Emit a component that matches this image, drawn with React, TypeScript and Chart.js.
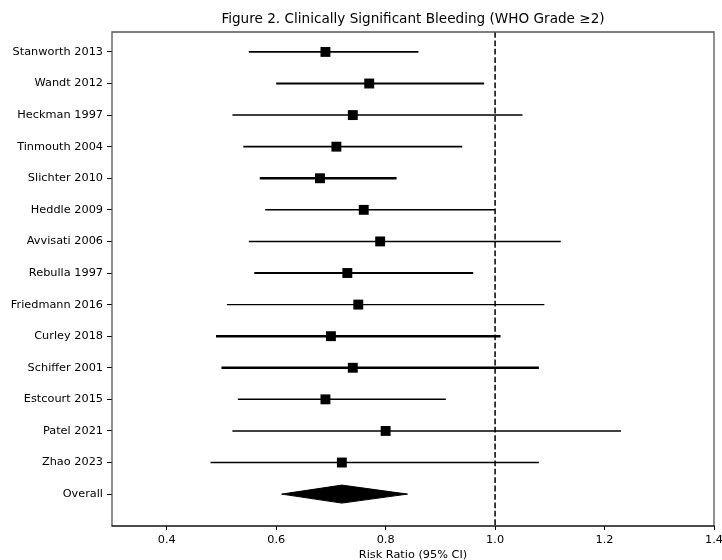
import React, { useEffect, useRef } from 'react';
import { Chart, registerables } from 'chart.js';

Chart.register(...registerables);

// ---- data ----
const studies = [
  'Stanworth 2013',
  'Wandt 2012',
  'Heckman 1997',
  'Tinmouth 2004',
  'Slichter 2010',
  'Heddle 2009',
  'Avvisati 2006',
  'Rebulla 1997',
  'Friedmann 2016',
  'Curley 2018',
  'Schiffer 2001',
  'Estcourt 2015',
  'Patel 2021',
  'Zhao 2023',
];
const riskRatios = [0.69, 0.77, 0.74, 0.71, 0.68, 0.76, 0.79, 0.73, 0.75, 0.70, 0.74, 0.69, 0.80, 0.72];
const lowerCI = [0.55, 0.60, 0.52, 0.54, 0.57, 0.58, 0.55, 0.56, 0.51, 0.49, 0.50, 0.53, 0.52, 0.48];
const upperCI = [0.86, 0.98, 1.05, 0.94, 0.82, 1.00, 1.12, 0.96, 1.09, 1.01, 1.08, 0.91, 1.23, 1.08];
const overallLabel = 'Overall';
const overallRR = 0.72;
const overallLower = 0.61;
const overallUpper = 0.84;
const xTickValues = [0.4, 0.6, 0.8, 1.0, 1.2, 1.4];
const nullEffect = 1.0;

// ---- styles ----
const ciLineWidths = [1.8, 1.8, 1.5, 1.8, 2.6, 1.5, 1.5, 1.8, 1.3, 2.6, 2.6, 1.5, 1.5, 1.5];
const titleText = 'Figure 2. Clinically Significant Bleeding (WHO Grade \u22652)';
const xTitleText = 'Risk Ratio (95% CI)';

const rowLabels = [...studies, overallLabel];
const overallRow = studies.length;
const Y_MIN = -0.63;
const Y_MAX = overallRow + 1.01;
const DIAMOND_HALF = 0.285;

const framePlugin = {
  id: 'frame',
  afterDatasetsDraw(chart: any) {
    const { ctx, chartArea } = chart;
    const { left, right, top, bottom } = chartArea;
    ctx.save();
    ctx.lineWidth = 1.3;
    ctx.strokeStyle = '#555';
    ctx.beginPath();
    ctx.moveTo(left, bottom);
    ctx.lineTo(left, top);
    ctx.lineTo(right, top);
    ctx.lineTo(right, bottom);
    ctx.stroke();
    ctx.strokeStyle = '#111';
    ctx.lineWidth = 1.5;
    ctx.beginPath();
    ctx.moveTo(left - 0.5, bottom);
    ctx.lineTo(right + 0.5, bottom);
    ctx.stroke();
    ctx.restore();
  },
};

export default function App() {
  const canvasRef = useRef<HTMLCanvasElement | null>(null);

  useEffect(() => {
    document.body.style.margin = '0';
    const canvas = canvasRef.current;
    if (!canvas) return;

    Chart.defaults.font.family = "'DejaVu Sans', sans-serif";
    Chart.defaults.color = '#000';

    const datasets: any[] = [];

    // square markers
    datasets.push({
      label: 'RR',
      data: riskRatios.map((rr, i) => ({ x: rr, y: i })),
      showLine: false,
      pointStyle: 'rect',
      pointRadius: 7,
      pointBackgroundColor: '#000',
      pointBorderWidth: 0,
      borderWidth: 0,
    });

    // overall diamond
    datasets.push({
      label: 'Overall',
      data: [
        { x: overallLower, y: overallRow },
        { x: overallRR, y: overallRow - DIAMOND_HALF },
        { x: overallUpper, y: overallRow },
        { x: overallRR, y: overallRow + DIAMOND_HALF },
        { x: overallLower, y: overallRow },
      ],
      showLine: true,
      fill: 'shape',
      backgroundColor: '#000',
      borderColor: '#000',
      borderWidth: 1,
      pointRadius: 0,
      tension: 0,
    });

    // CI lines
    studies.forEach((s, i) => {
      datasets.push({
        label: s,
        data: [
          { x: lowerCI[i], y: i },
          { x: upperCI[i], y: i },
        ],
        showLine: true,
        borderColor: '#000',
        borderWidth: ciLineWidths[i],
        pointRadius: 0,
        fill: false,
      });
    });

    // null effect line
    datasets.push({
      label: 'null',
      data: [
        { x: nullEffect, y: Y_MIN },
        { x: nullEffect, y: Y_MAX },
      ],
      showLine: true,
      borderColor: '#000',
      borderWidth: 1.5,
      borderDash: [5.8, 2.6],
      pointRadius: 0,
      fill: false,
    });

    const chart = new Chart(canvas, {
      type: 'scatter',
      data: { datasets },
      plugins: [framePlugin],
      options: {
        animation: false,
        responsive: false,
        maintainAspectRatio: false,
        layout: { padding: { left: 0, right: 8, top: 0, bottom: 0 } },
        plugins: {
          legend: { display: false },
          tooltip: { enabled: false },
          title: {
            display: true,
            text: titleText,
            fullSize: false,
            color: '#000',
            font: { size: 13.6, weight: 'normal', family: "'DejaVu Sans', sans-serif" },
            padding: { top: 11.6, bottom: 4.1 },
          },
        },
        scales: {
          x: {
            type: 'linear',
            min: 0.3,
            max: 1.4,
            afterBuildTicks: (scale: any) => {
              scale.ticks = xTickValues.map((v) => ({ value: v }));
            },
            afterFit: (scale: any) => {
              scale.height = 34;
              scale.paddingLeft = 0;
              scale.paddingRight = 0;
            },
            ticks: {
              color: '#000',
              font: { size: 11.3 },
              padding: 3,
              maxRotation: 0,
              autoSkip: false,
              callback: (v: any) => Number(v).toFixed(1),
            },
            grid: {
              display: true,
              drawOnChartArea: false,
              drawTicks: true,
              tickLength: 4,
              color: '#000',
              lineWidth: 1,
            },
            border: { display: false },
            title: {
              display: true,
              text: xTitleText,
              color: '#000',
              font: { size: 11.3 },
              padding: { top: 0, bottom: -1.5 },
            },
          },
          y: {
            type: 'linear',
            reverse: true,
            min: Y_MIN,
            max: Y_MAX,
            afterBuildTicks: (scale: any) => {
              scale.ticks = rowLabels.map((_, i) => ({ value: i }));
            },
            afterFit: (scale: any) => {
              scale.width = 112;
              scale.paddingTop = 0;
              scale.paddingBottom = 0;
            },
            ticks: {
              color: '#000',
              font: { size: 11.3 },
              padding: 4,
              autoSkip: false,
              callback: (v: any) => rowLabels[Math.round(Number(v))] ?? '',
            },
            grid: {
              display: true,
              drawOnChartArea: false,
              drawTicks: true,
              tickLength: 5,
              color: '#000',
              lineWidth: 1,
            },
            border: { display: false },
          },
        },
      } as any,
    });

    return () => {
      chart.destroy();
    };
  }, []);

  return (
    <div style={{ width: 722, height: 560, position: 'relative' }}>
      <canvas ref={canvasRef} width={722} height={560} style={{ display: 'block', width: 722, height: 560 }} />
    </div>
  );
}
